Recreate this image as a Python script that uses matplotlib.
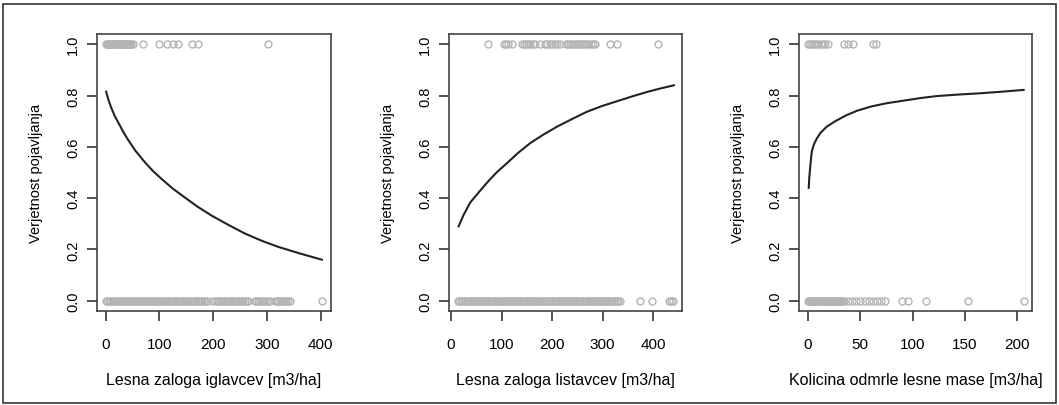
import matplotlib
matplotlib.use("Agg")
import matplotlib.pyplot as plt
from matplotlib.patches import Rectangle

plt.rcParams['font.family'] = ['Liberation Sans', 'DejaVu Sans']

# --- Panel 1: Lesna zaloga iglavcev ---
igl_curve_x = [1, 5, 10, 17, 25, 33, 41, 55, 73, 88, 104, 125, 147, 170, 197,
               228, 259, 290, 321, 360, 402]
igl_curve_y = [0.815, 0.785, 0.755, 0.72, 0.689, 0.658, 0.63, 0.586, 0.54, 0.506,
               0.475, 0.437, 0.403, 0.368, 0.332, 0.296, 0.262, 0.234, 0.21, 0.185, 0.16]
igl_pres = [0, 2, 4, 6, 8, 10, 12, 14, 16, 18, 20, 22, 24, 26, 28, 30, 32, 34, 36,
            38, 40, 42, 44, 46, 48, 50, 70, 100, 115, 125, 135, 160, 172, 302]
igl_abs = [0, 3, 6, 9, 12, 15, 18, 21, 24, 27, 30, 33, 36, 39, 42, 45, 48, 51, 54,
           57, 60, 63, 66, 69, 72, 75, 78, 81, 84, 87, 90, 93, 96, 99, 102, 105,
           108, 111, 114, 117, 120, 123, 126, 129, 132, 135, 138, 141, 144, 147,
           150, 153, 156, 159, 162, 165, 168, 171, 174, 177, 180, 183, 186, 189,
           197, 203, 208, 211, 214, 217, 220, 223, 226, 229, 232, 235, 238, 241,
           244, 247, 250, 253, 256, 259, 262, 265, 277, 280, 283, 286, 289, 292,
           295, 298, 301, 305, 315, 318, 321, 324, 327, 330, 333, 336, 339, 343, 402]

# --- Panel 2: Lesna zaloga listavcev ---
lis_curve_x = [15, 25, 38, 55, 71, 90, 111, 133, 157, 183, 210, 240, 269, 300,
               335, 362, 388, 415, 441]
lis_curve_y = [0.29, 0.335, 0.383, 0.423, 0.46, 0.5, 0.537, 0.577, 0.615, 0.648,
               0.679, 0.709, 0.737, 0.76, 0.782, 0.799, 0.814, 0.828, 0.84]
lis_pres = [74, 105, 109, 113, 120, 140, 144, 148, 152, 156, 162, 167, 176, 185,
            190, 195, 200, 205, 210, 215, 228, 232, 236, 240, 244, 248, 252, 256,
            260, 264, 268, 272, 276, 280, 285, 315, 328, 410]
lis_abs = [13, 16, 19, 22, 25, 28, 31, 34, 37, 40, 43, 46, 49, 52, 55, 58, 61, 64,
           67, 70, 73, 76, 79, 82, 85, 88, 91, 94, 97, 100, 103, 106, 109, 112,
           115, 118, 121, 124, 127, 130, 133, 136, 139, 142, 145, 148, 151, 154,
           157, 160, 163, 166, 169, 172, 175, 178, 181, 184, 187, 190, 193, 196,
           199, 202, 205, 208, 211, 214, 217, 220, 223, 226, 229, 232, 235, 238,
           241, 244, 247, 250, 253, 256, 259, 262, 265, 268, 271, 274, 277, 280,
           283, 286, 289, 292, 295, 298, 301, 304, 307, 310, 313, 316, 319, 322,
           325, 328, 331, 335, 373, 397, 431, 436, 440]

# --- Panel 3: Kolicina odmrle lesne mase ---
odm_curve_x = [0.7, 1.2, 2.2, 3, 3.8, 6, 8.6, 12, 18, 26, 37, 47, 60, 75, 91,
               107, 123, 144, 165, 185, 206]
odm_curve_y = [0.44, 0.48, 0.524, 0.56, 0.585, 0.613, 0.634, 0.655, 0.679, 0.70,
               0.724, 0.741, 0.757, 0.77, 0.78, 0.79, 0.798, 0.804, 0.809, 0.815, 0.822]
odm_pres = [0, 2, 4, 6, 8, 10, 12, 14, 16, 19, 34, 38, 43, 62, 65]
odm_abs = [0, 1, 2, 3, 4, 5, 6, 7, 8, 9, 10, 11, 12, 13, 14, 15, 16, 17, 18, 19,
           20, 21, 22, 23, 24, 25, 26, 27, 28, 29, 30, 31, 32, 33, 34, 38, 42, 46,
           50, 54, 58, 62, 66, 70, 74, 90, 96, 113, 153, 206]

panels = [
    (igl_curve_x, igl_curve_y, igl_pres, igl_abs, (-16, 419), [0, 100, 200, 300, 400],
     'Lesna zaloga iglavcev [m3/ha]', [97, 234]),
    (lis_curve_x, lis_curve_y, lis_pres, lis_abs, (-4, 457), [0, 100, 200, 300, 400],
     'Lesna zaloga listavcev [m3/ha]', [449, 233]),
    (odm_curve_x, odm_curve_y, odm_pres, odm_abs, (-8.6, 214), [0, 50, 100, 150, 200],
     'Kolicina odmrle lesne mase [m3/ha]', [799, 233]),
]

W, H = 1059, 406
fig = plt.figure(figsize=(W / 100, H / 100), dpi=100)

# zunanji okvir
fig.patches.append(Rectangle((2.5 / W, 2 / H), 1053.5 / W, 399 / H, transform=fig.transFigure,
                             fill=False, edgecolor='#333333', linewidth=1.2))

yticks = [0.0, 0.2, 0.4, 0.6, 0.8, 1.0]
for cx, cy, pres, absn, xlim, xt, xlabel, (left, width) in panels:
    ax = fig.add_axes([left / W, 1 - 312 / H, width / W, 277 / H])
    ax.plot(absn, [0] * len(absn), 'o', ms=5, mfc='none', mec='#b4b4b4', mew=1, zorder=2)
    ax.plot(pres, [1] * len(pres), 'o', ms=5, mfc='none', mec='#b4b4b4', mew=1, zorder=2)
    ax.plot(cx, cy, color='#222222', lw=1.5, zorder=3, solid_joinstyle='round')
    ax.set_xlim(*xlim)
    ax.set_ylim(-0.04, 1.04)
    ax.set_xticks(xt)
    ax.set_xticklabels([str(v) for v in xt], fontsize=11)
    ax.set_yticks(yticks)
    ax.set_yticklabels([f'{v:.1f}' for v in yticks], fontsize=10.5, rotation=90, va='center')
    ax.tick_params(length=7, width=1.2, color='#333333')
    ax.tick_params(axis='x', pad=12)
    ax.tick_params(axis='y', pad=5)
    for s in ax.spines.values():
        s.set_linewidth(1.2)
        s.set_color('#444444')
    ax.set_xlabel(xlabel, fontsize=11.5, labelpad=15)
    ax.set_ylabel('Verjetnost pojavljanja', fontsize=10.5, labelpad=17)

plt.savefig('out.png', dpi=100)
